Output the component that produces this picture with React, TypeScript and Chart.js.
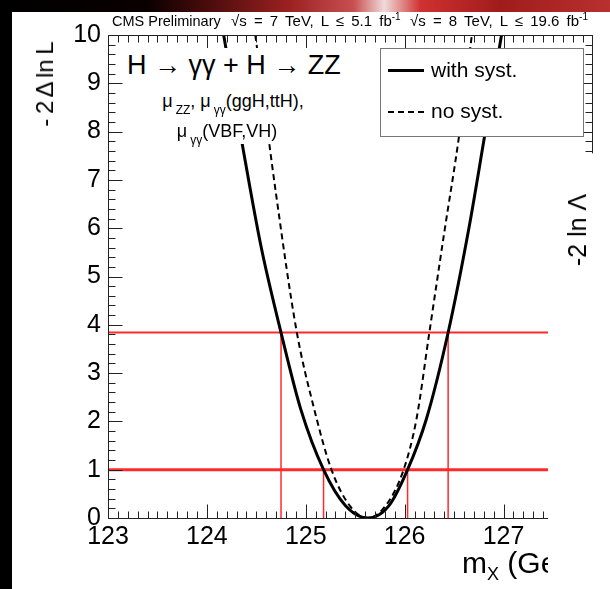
import React, { useEffect, useRef } from "react";
import { Chart, registerables } from "chart.js";

Chart.register(...registerables);

// Likelihood scan in the common mass m_X (GeV)
const withSystMass = [124.17, 124.37, 124.55, 124.75, 124.95, 125.18, 125.4, 125.63, 125.84, 126.03, 126.22, 126.44, 126.65, 126.8, 126.98];
const withSystNll = [10.0, 7.6, 5.6, 3.84, 2.25, 1.0, 0.26, 0.0, 0.25, 1.0, 2.05, 3.84, 6.0, 7.8, 10.0];

const noSystMass = [124.49, 124.7, 124.91, 125.08, 125.26, 125.45, 125.63, 125.81, 125.99, 126.12, 126.25, 126.4, 126.55, 126.68];
const noSystNll = [10.0, 6.7, 3.84, 2.3, 1.0, 0.24, 0.0, 0.26, 1.0, 2.05, 3.84, 5.9, 7.9, 10.0];

// Confidence levels and the crossings of the full scan with them
const levels = [1.0, 3.84];
const levelWidths = [3, 2];
const interval68 = [125.18, 126.03];
const interval95 = [124.75, 126.44];

// Axis ranges and tick layout
const xRange = [123, 127.45];
const yRange = [0, 10];
const xTickValues = [123, 124, 125, 126, 127];
const yTickValues = [0, 1, 2, 3, 4, 5, 6, 7, 8, 9, 10];
const xMinorPerMajor = 10;
const yMinorPerMajor = 5;
// neighbouring frame that continues above the legend
const frameExtentX = 127.9;
const frameExtentYLow = 7.55;

const FONT = "'Liberation Sans', Arial, Helvetica, sans-serif";

const pairs = (xs: number[], ys: number[]) => xs.map((x, i) => ({ x, y: ys[i] }));

const frameTicks = {
  id: "frameTicks",
  afterDraw(chart: any) {
    const { ctx, chartArea } = chart;
    const xs = chart.scales.x;
    const ys = chart.scales.y;
    const left = Math.round(chartArea.left) + 0.5;
    const bottom = Math.round(chartArea.bottom) + 0.5;
    const top = Math.round(chartArea.top) + 0.5;
    const right = chartArea.right;
    const extRight = Math.round(xs.getPixelForValue(frameExtentX)) + 0.5;
    const extLow = ys.getPixelForValue(frameExtentYLow);
    ctx.save();
    ctx.strokeStyle = "#222";
    ctx.lineWidth = 1;
    ctx.beginPath();
    // frame lines
    ctx.moveTo(left, top);
    ctx.lineTo(left, bottom);
    ctx.lineTo(right, bottom);
    ctx.moveTo(left, top);
    ctx.lineTo(extRight, top);
    ctx.lineTo(extRight, extLow);
    // x ticks (bottom and top), pointing into the frame
    const xStep = (xTickValues[1] - xTickValues[0]) / xMinorPerMajor;
    const nx = Math.round((frameExtentX - xRange[0]) / xStep);
    for (let i = 0; i <= nx; i++) {
      const v = xRange[0] + i * xStep;
      const px = Math.round(xs.getPixelForValue(v)) + 0.5;
      const len = i % xMinorPerMajor === 0 ? 14 : 7;
      if (px <= right + 0.6) {
        ctx.moveTo(px, bottom);
        ctx.lineTo(px, bottom - len);
      }
      ctx.moveTo(px, top);
      ctx.lineTo(px, top + len);
    }
    // y ticks (left, and on the extended right frame)
    const yStep = (yTickValues[1] - yTickValues[0]) / yMinorPerMajor;
    const ny = Math.round((yRange[1] - yRange[0]) / yStep);
    for (let i = 0; i <= ny; i++) {
      const v = yRange[0] + i * yStep;
      const py = Math.round(ys.getPixelForValue(v)) + 0.5;
      const len = i % yMinorPerMajor === 0 ? 14 : 7;
      ctx.moveTo(left, py);
      ctx.lineTo(left + len, py);
      if (v >= frameExtentYLow) {
        ctx.moveTo(extRight, py);
        ctx.lineTo(extRight - len, py);
      }
    }
    ctx.stroke();
    ctx.restore();
  },
};

export default function App() {
  const canvasRef = useRef<HTMLCanvasElement | null>(null);

  useEffect(() => {
    const canvas = canvasRef.current;
    if (!canvas) return;
    const red = "#ff2a2a";
    const refLines: any[] = [];
    levels.forEach((lv, i) => {
      refLines.push({
        data: [{ x: xRange[0], y: lv }, { x: xRange[1], y: lv }],
        borderColor: red,
        borderWidth: levelWidths[i],
        pointRadius: 0,
      });
    });
    [interval95, interval68].forEach((iv, k) => {
      const lv = k === 0 ? levels[1] : levels[0];
      iv.forEach((m) => {
        refLines.push({
          data: [{ x: m, y: 0 }, { x: m, y: lv }],
          borderColor: red,
          borderWidth: 1.5,
          pointRadius: 0,
        });
      });
    });

    const chart = new Chart(canvas, {
      type: "line",
      data: {
        datasets: [
          {
            label: "with syst.",
            data: pairs(withSystMass, withSystNll),
            borderColor: "#000",
            borderWidth: 3,
            pointRadius: 0,
            cubicInterpolationMode: "monotone",
          },
          {
            label: "no syst.",
            data: pairs(noSystMass, noSystNll),
            borderColor: "#000",
            borderWidth: 2,
            borderDash: [6, 4],
            pointRadius: 0,
            cubicInterpolationMode: "monotone",
          },
          ...refLines,
        ],
      },
      options: {
        animation: false,
        responsive: false,
        maintainAspectRatio: false,
        layout: { padding: { left: 0, right: 62, top: 35, bottom: 0 } },
        plugins: { legend: { display: false }, tooltip: { enabled: false } },
        scales: {
          x: {
            type: "linear",
            min: xRange[0],
            max: xRange[1],
            grid: { display: false, drawTicks: false },
            border: { display: false },
            afterBuildTicks: (s: any) => {
              s.ticks = xTickValues.map((value) => ({ value }));
            },
            afterFit: (s: any) => {
              s.height = 71;
            },
            ticks: {
              autoSkip: false,
              maxRotation: 0,
              padding: 4,
              color: "#000",
              font: { family: FONT, size: 25 },
            },
          },
          y: {
            type: "linear",
            min: yRange[0],
            max: yRange[1],
            grid: { display: false, drawTicks: false },
            border: { display: false },
            afterBuildTicks: (s: any) => {
              s.ticks = yTickValues.map((value) => ({ value }));
            },
            afterFit: (s: any) => {
              s.width = 108;
            },
            ticks: {
              autoSkip: false,
              padding: 7,
              color: "#000",
              font: { family: FONT, size: 25 },
            },
          },
        },
      },
      plugins: [frameTicks],
    });
    return () => chart.destroy();
  }, []);

  const abs = (s: React.CSSProperties): React.CSSProperties => ({ position: "absolute", whiteSpace: "nowrap", ...s });
  const sub = (size: number, drop: number): React.CSSProperties => ({
    fontSize: size,
    position: "relative",
    top: drop,
    verticalAlign: "baseline",
    marginLeft: 3,
  });
  const sup: React.CSSProperties = { fontSize: 10, position: "relative", top: -6, verticalAlign: "baseline" };
  const header: React.CSSProperties = { top: 13, fontSize: 15, lineHeight: "16px", wordSpacing: 3 };

  return (
    <div
      style={{
        position: "fixed",
        left: 0,
        top: 0,
        width: 610,
        height: 589,
        overflow: "hidden",
        background: "#fff",
        fontFamily: FONT,
        color: "#000",
      }}
    >
      <div
        style={abs({
          left: 0,
          top: 0,
          width: 610,
          height: 12,
          background:
            "linear-gradient(90deg, #000 0%, #0a0000 24%, #4a0c0c 34%, #9a2020 47%, #c85050 58%, #f0dada 63%, #d03030 69%, #a01c1c 82%, #b83030 100%)",
        })}
      />
      <div style={abs({ left: 0, top: 0, width: 12, height: 589, background: "#000" })} />
      <canvas ref={canvasRef} width={610} height={589} style={abs({ left: 0, top: 0 })} />

      <div style={abs({ left: 112, top: 13, fontSize: 14.5, lineHeight: "16px" })}>CMS Preliminary</div>
      <div style={abs({ left: 231, ...header })}>
        √s = 7 TeV, L ≤ 5.1 fb<span style={sup}>-1</span>
      </div>
      <div style={abs({ left: 410, ...header })}>
        √s = 8 TeV, L ≤ 19.6 fb<span style={sup}>-1</span>
      </div>

      <div style={abs({ left: 124, top: 48, width: 230, height: 96, background: "#fff" })}>
        <div style={abs({ left: 3, top: 2, fontSize: 27, lineHeight: "30px" })}>H → γγ + H → ZZ</div>
        <div style={abs({ left: 0, width: 218, top: 43, fontSize: 18, lineHeight: "20px", textAlign: "center" })}>
          μ<span style={sub(12, 7)}>ZZ</span>, μ<span style={sub(12, 7)}>γγ</span>(ggH,ttH),
        </div>
        <div style={abs({ left: 0, width: 206, top: 73, fontSize: 18, lineHeight: "20px", textAlign: "center" })}>
          μ<span style={sub(12, 7)}>γγ</span>(VBF,VH)
        </div>
      </div>

      <div
        style={abs({
          left: 380,
          top: 48,
          width: 202,
          height: 87,
          background: "#fff",
          border: "1px solid #777",
        })}
      >
        <div style={abs({ left: 7, top: 20, width: 36, height: 0, borderTop: "3px solid #000" })} />
        <div style={abs({ left: 50, top: 9, fontSize: 21, lineHeight: "24px" })}>with syst.</div>
        <div style={abs({ left: 7, top: 62, width: 36, height: 0, borderTop: "2px dashed #000" })} />
        <div style={abs({ left: 50, top: 50, fontSize: 21, lineHeight: "24px" })}>no syst.</div>
      </div>

      <div
        style={abs({
          left: 45,
          top: 84,
          fontSize: 24,
          lineHeight: "28px",
          wordSpacing: -2,
          transform: "translate(-50%, -50%) rotate(-90deg)",
        })}
      >
        - 2 Δ ln L
      </div>

      <div style={abs({ left: 462, top: 546, width: 86, height: 43, overflow: "hidden", fontSize: 30, lineHeight: "34px" })}>
        m<span style={{ fontSize: 18, position: "relative", top: 7 }}>X</span> (GeV)
      </div>

      <div
        style={abs({
          left: 577,
          top: 230,
          fontSize: 25,
          lineHeight: "28px",
          transform: "translate(-50%, -50%) rotate(-90deg)",
        })}
      >
        -2 ln Λ
      </div>
    </div>
  );
}
